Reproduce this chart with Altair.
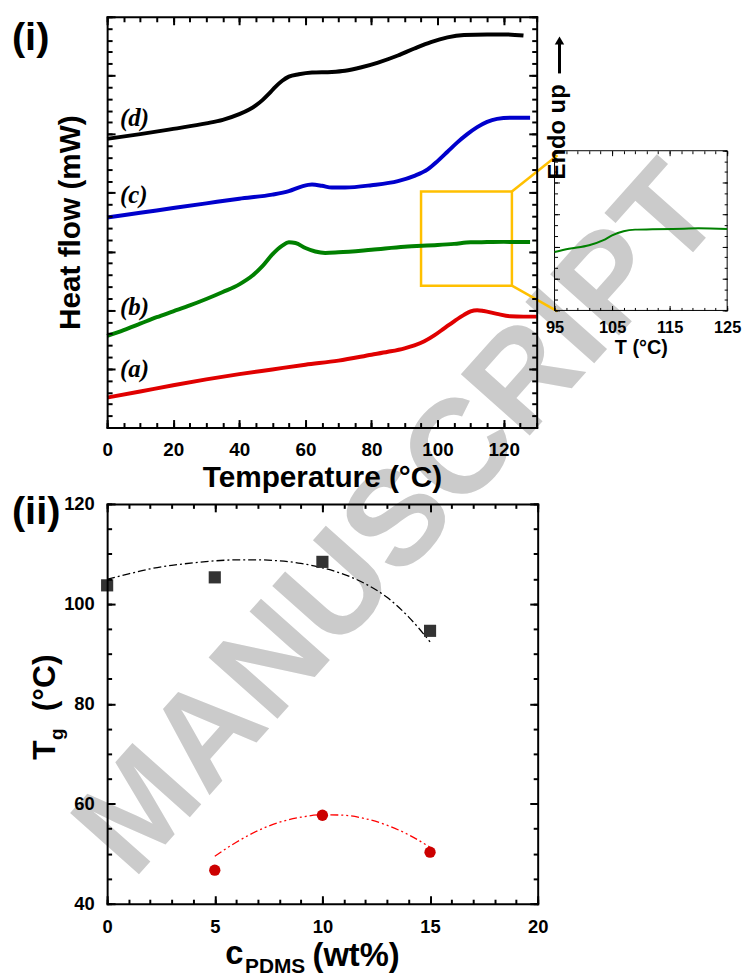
import altair as alt
import pandas as pd

FONT = "Liberation Sans"
SERIF = "Liberation Serif"

# ---- DSC heat-flow traces (vertically offset, arbitrary units) ----
temp_a = [0, 10, 20, 30, 40, 50, 60, 70, 80, 85, 90, 93, 96, 99, 102, 105, 108, 110, 112, 114, 118, 122, 126, 130]
hf_a = [2.55, 3.07, 3.6, 4.1, 4.55, 4.95, 5.35, 5.7, 6.2, 6.45, 6.75, 7.0, 7.35, 7.85, 8.45, 9.05, 9.6, 9.9, 10.0, 9.93, 9.68, 9.48, 9.45, 9.45]

temp_b = [0, 5, 10, 15, 20, 25, 30, 35, 40, 44, 47, 50, 53, 55, 57, 60, 63, 66, 70, 80, 90, 100, 105, 110, 115, 120, 128]
hf_b = [7.8, 8.3, 8.85, 9.4, 9.9, 10.4, 10.95, 11.55, 12.2, 12.95, 13.75, 14.75, 15.5, 15.78, 15.72, 15.3, 15.0, 14.88, 14.93, 15.15, 15.4, 15.55, 15.65, 15.78, 15.8, 15.82, 15.8]

temp_c = [0, 10, 20, 30, 40, 50, 55, 59, 62, 65, 68, 72, 80, 88, 93, 97, 100, 103, 106, 109, 112, 115, 118, 122, 128]
hf_c = [17.9, 18.3, 18.7, 19.1, 19.5, 19.85, 20.15, 20.55, 20.7, 20.6, 20.45, 20.45, 20.65, 21.0, 21.45, 22.0, 22.7, 23.5, 24.3, 25.0, 25.6, 26.05, 26.3, 26.4, 26.4]

temp_d = [0, 10, 20, 30, 35, 40, 43, 45, 47, 49, 51, 53, 55, 58, 62, 68, 72, 77, 82, 88, 93, 98, 103, 108, 115, 120, 126]
hf_d = [24.6, 25.0, 25.45, 25.92, 26.22, 26.7, 27.1, 27.45, 27.9, 28.45, 29.05, 29.55, 29.9, 30.1, 30.25, 30.3, 30.4, 30.7, 31.1, 31.7, 32.3, 32.85, 33.25, 33.45, 33.5, 33.5, 33.4]

samples = ["a", "b", "c", "d"]
sample_labels = ["(a)", "(b)", "(c)", "(d)"]
sample_colors = ["#E00000", "#008000", "#0000CC", "#000000"]

# ---- enlarged glass-transition region of trace (b) ----
inset_temp = [95, 97.5, 101, 103.5, 105, 107, 109, 112, 117.5, 120, 125]
inset_hf = [1.83, 1.93, 2.04, 2.2, 2.35, 2.48, 2.53, 2.54, 2.56, 2.57, 2.55]

# ---- Tg versus PDMS content ----
c_high = [0, 5, 10, 15]
tg_high = [103.7, 105.3, 108.4, 94.6]
c_low = [5, 10, 15]
tg_low = [46.7, 57.7, 50.3]
fit_high_c = [0, 1, 2, 3, 4, 5, 6, 7, 8, 9, 10, 11, 12, 13, 14, 15]
fit_high_tg = [104.9, 106.0, 107.0, 107.7, 108.2, 108.6, 108.8, 108.8, 108.6, 108.1, 107.2, 105.9, 104.0, 101.3, 97.4, 92.4]
fit_low_c = [5, 6, 7, 8, 9, 10, 11, 12, 13, 14, 15]
fit_low_tg = [49.5, 52.3, 54.6, 56.3, 57.3, 57.8, 57.7, 57.0, 55.7, 53.8, 51.3]


def one_row():
    return alt.Data(values=[{"k": 0}])


def lin(dom):
    return alt.Scale(domain=dom, nice=False, zero=False)


def axis_only(channel, xdom, ydom, axis):
    """Invisible mark that carries one axis; both position scales are present."""
    if channel == "x":
        enc = dict(x=alt.X("vx:Q", scale=lin(xdom), axis=axis), y=alt.Y("vy:Q", scale=lin(ydom), axis=None))
    else:
        enc = dict(x=alt.X("vx:Q", scale=lin(xdom), axis=None), y=alt.Y("vy:Q", scale=lin(ydom), axis=axis))
    return alt.Chart(alt.Data(values=[{"vx": xdom[0], "vy": ydom[0]}])).mark_point(opacity=0).encode(**enc)


def tick_axis(channel, xdom, ydom, orient, offset, values, size, lw, domain_line):
    ax = alt.Axis(orient=orient, offset=offset, values=values, tickSize=size, tickWidth=lw,
                  tickColor="black", labels=False, domain=domain_line, domainWidth=lw,
                  domainColor="black", domainCap="square", grid=False, title=None, zindex=1)
    return axis_only(channel, xdom, ydom, ax)


def inner_ticks(xdom, ydom, W, H, xmaj, xmin, ymaj, ymin, lmaj, lmin, lw):
    """Frame with inward-pointing ticks on all four sides."""
    out = []
    for orient in ("top", "bottom"):
        out.append(tick_axis("x", xdom, ydom, orient, -H, xmin, lmin, lw, False))
        out.append(tick_axis("x", xdom, ydom, orient, -H, xmaj, lmaj, lw, True))
    for orient in ("right", "left"):
        out.append(tick_axis("y", xdom, ydom, orient, -W, ymin, lmin, lw, False))
        out.append(tick_axis("y", xdom, ydom, orient, -W, ymaj, lmaj, lw, True))
    return out


def label_axis(channel, xdom, ydom, orient, values, size, pad, title=None, tsize=0, tpad=0):
    kw = dict(orient=orient, ticks=False, tickSize=0, domain=False, grid=False,
              labelFont=FONT, labelFontWeight="bold", labelFontSize=size,
              labelColor="black", labelPadding=pad, labelFlush=False, labelOverlap=False,
              minExtent=0, zindex=1)
    if values is None:
        kw["labels"] = False
    else:
        kw["values"] = values
    if title is None:
        kw["title"] = None
    else:
        kw.update(title=title, titleFont=FONT, titleFontWeight="bold", titleFontSize=tsize,
                  titleColor="black", titlePadding=tpad)
    return axis_only(channel, xdom, ydom, alt.Axis(**kw))


def xy(xf, yf, xdom, ydom):
    return dict(x=alt.X(xf, scale=lin(xdom), axis=None), y=alt.Y(yf, scale=lin(ydom), axis=None))


# ================= (i) DSC panel =================
W1, H1 = 433, 414
XD1, YD1 = [0, 130], [0, 35]

rows = []
for s, T, HF in zip(samples, [temp_a, temp_b, temp_c, temp_d], [hf_a, hf_b, hf_c, hf_d]):
    rows += [{"sample": s, "T": t, "hf": h} for t, h in zip(T, HF)]
dsc = pd.DataFrame(rows)

curves = alt.Chart(dsc).mark_line(strokeWidth=4, interpolate="monotone").encode(
    color=alt.Color("sample:N", scale=alt.Scale(domain=samples, range=sample_colors), legend=None),
    **xy("T:Q", "hf:Q", XD1, YD1))

curve_tags = pd.DataFrame({"tag": sample_labels, "T": [3.9] * 4, "hf": [5.0, 10.3, 19.85, 26.4]})
tags = alt.Chart(curve_tags).mark_text(font=SERIF, fontStyle="italic", fontWeight="bold", fontSize=25,
                                       align="left", baseline="middle", color="black").encode(
    text="tag:N", **xy("T:Q", "hf:Q", XD1, YD1))

zoom_box = alt.Chart(alt.Data(values=[{"T0": 95, "T1": 122.5, "h0": 12.09, "h1": 20.12}])).mark_rect(
    fillOpacity=0, stroke="#FFC000", strokeWidth=2.5).encode(
    x2="T1:Q", y2="h1:Q", **xy("T0:Q", "h0:Q", XD1, YD1))

leaders = alt.Chart(alt.Data(values=[
    {"T": 122.5, "h": 20.12, "T2": 136.3, "h2": 23.2},
    {"T": 122.5, "h": 12.09, "T2": 136.3, "h2": 9.9},
])).mark_rule(stroke="#FFC000", strokeWidth=2.5).encode(
    x2="T2:Q", y2="h2:Q", **xy("T:Q", "h:Q", XD1, YD1))

panel_i = alt.Chart(one_row()).mark_text(text="(i)", font=FONT, fontWeight="bold", fontSize=40,
                                         align="left", baseline="middle", color="black").encode(
    x=alt.value(-96), y=alt.value(21))

watermark = alt.Chart(one_row()).mark_text(text="MANUSCRIPT", font=FONT, fontWeight="bold", fontSize=135,
                                           angle=311.7, align="right", baseline="middle",
                                           color="#CBCBCB").encode(x=alt.value(594), y=alt.value(172))

main_axes = inner_ticks(XD1, YD1, W1, H1, list(range(0, 131, 20)), list(range(0, 131, 5)),
                        list(range(0, 36, 5)), list(range(0, 36)), 8, 5, 2)
main_axes.append(label_axis("x", XD1, YD1, "bottom", list(range(0, 121, 20)), 19, 13,
                            "Temperature (°C)", 30, 3))
main_axes.append(label_axis("y", XD1, YD1, "left", None, 19, 0, "Heat flow (mW)", 30, 22))

main = alt.layer(watermark, zoom_box, leaders, curves, tags, panel_i, *main_axes).resolve_axis(
    x="independent", y="independent").properties(width=W1, height=H1)

# ================= inset (lower part of a tall column) =================
W2, H2 = 174, 296          # full column; the framed plot is the lower 161 px
FRAME_H = 161
XD2 = [95, 125]
YD2 = [0, 5 * H2 / FRAME_H]  # inset values run 0..5 inside the frame

inset_line = alt.Chart(pd.DataFrame({"T": inset_temp, "hf": inset_hf})).mark_line(
    strokeWidth=2, color="#008000", interpolate="monotone").encode(**xy("T:Q", "hf:Q", XD2, YD2))

inset_frame = alt.Chart(alt.Data(values=[{"T0": 95, "T1": 125, "h0": 0, "h1": 5}])).mark_rect(
    fillOpacity=0, stroke="black", strokeWidth=1).encode(
    x2="T1:Q", y2="h1:Q", **xy("T0:Q", "h0:Q", XD2, YD2))

endo_text = alt.Chart(alt.Data(values=[{"T": 96.9, "h": 4.1}])).mark_text(
    text="Endo up", angle=270, align="left", baseline="alphabetic", font=FONT, fontWeight="bold",
    fontSize=24, color="black").encode(**xy("T:Q", "h:Q", XD2, YD2))
endo_shaft = alt.Chart(alt.Data(values=[{"T": 95.86, "h": 7.42, "h2": 8.35}])).mark_rule(
    strokeWidth=3, color="black").encode(y2="h2:Q", **xy("T:Q", "h:Q", XD2, YD2))
endo_head = alt.Chart(alt.Data(values=[{"T": 95.86, "h": 8.45}])).mark_point(
    shape="triangle-up", filled=True, size=90, color="black", opacity=1).encode(
    **xy("T:Q", "h:Q", XD2, YD2))

x_min_in = list(range(95, 126, 2))
x_maj_in = [95, 105, 115, 125]
y_maj_in = [0, 1, 2, 3, 4, 5]
y_min_in = [i / 3 for i in range(16)]
inset_axes = [
    tick_axis("x", XD2, YD2, "top", -H2, x_min_in, 3, 1, False),
    tick_axis("x", XD2, YD2, "top", -H2, x_maj_in, 5, 1, False),
    tick_axis("x", XD2, YD2, "bottom", -FRAME_H, x_min_in, 3, 1, False),
    tick_axis("x", XD2, YD2, "bottom", -FRAME_H, x_maj_in, 5, 1, False),
    tick_axis("y", XD2, YD2, "right", -W2, y_min_in, 3, 1, False),
    tick_axis("y", XD2, YD2, "right", -W2, y_maj_in, 5, 1, False),
    tick_axis("y", XD2, YD2, "left", -W2, y_min_in, 3, 1, False),
    tick_axis("y", XD2, YD2, "left", -W2, y_maj_in, 5, 1, False),
    label_axis("x", XD2, YD2, "bottom", x_maj_in, 16.5, 9, "T (°C)", 20, 2),
]
inset = alt.layer(inset_frame, inset_line, endo_text, endo_shaft, endo_head, *inset_axes).resolve_axis(
    x="independent", y="independent").properties(width=W2, height=H2)

# ================= (ii) Tg panel =================
W3, H3 = 434, 403
XD3, YD3 = [0, 20], [40, 120]

fit_hi = alt.Chart(pd.DataFrame({"c": fit_high_c, "tg": fit_high_tg})).mark_line(
    strokeWidth=1.3, color="black", strokeDash=[8, 3, 2, 3], interpolate="monotone").encode(
    **xy("c:Q", "tg:Q", XD3, YD3))
fit_lo = alt.Chart(pd.DataFrame({"c": fit_low_c, "tg": fit_low_tg})).mark_line(
    strokeWidth=1.3, color="#FF0000", strokeDash=[8, 3, 2, 3, 2, 3], interpolate="monotone").encode(
    **xy("c:Q", "tg:Q", XD3, YD3))
pts_hi = alt.Chart(pd.DataFrame({"c": c_high, "tg": tg_high})).mark_point(
    shape="square", filled=True, size=150, color="#333333", opacity=1).encode(
    **xy("c:Q", "tg:Q", XD3, YD3))
pts_lo = alt.Chart(pd.DataFrame({"c": c_low, "tg": tg_low})).mark_point(
    shape="circle", filled=True, size=130, color="#CC0000", opacity=1).encode(
    **xy("c:Q", "tg:Q", XD3, YD3))


def word(txt, x, y, size, angle=0):
    props = dict(text=txt, font=FONT, fontWeight="bold", fontSize=size, align="left",
                 baseline="alphabetic", color="black")
    if angle:
        props["angle"] = angle
    return alt.Chart(one_row()).mark_text(**props).encode(x=alt.value(x), y=alt.value(y))


titles_ii = [
    word("c", 119, 464, 33),
    word("PDMS", 139, 473, 21),
    word("(wt%)", 207, 466, 33),
    word("T", -53, 258, 32, 270),
    word("g", -44, 238, 19, 270),
    word("(°C)", -53, 209, 32, 270),
]
panel_ii = alt.Chart(one_row()).mark_text(text="(ii)", font=FONT, fontWeight="bold", fontSize=40,
                                          align="left", baseline="middle", color="black").encode(
    x=alt.value(-96), y=alt.value(8))

tg_axes = inner_ticks(XD3, YD3, W3, H3, [0, 5, 10, 15, 20], list(range(0, 21)),
                      [40, 60, 80, 100, 120], list(range(40, 121, 5)), 8, 4.5, 2)
tg_axes.append(label_axis("x", XD3, YD3, "bottom", [0, 5, 10, 15, 20], 18.5, 14))
tg_axes.append(label_axis("y", XD3, YD3, "left", [40, 60, 80, 100, 120], 18.5, 13))

tg_panel = alt.layer(fit_hi, fit_lo, pts_hi, pts_lo, *titles_ii, panel_ii, *tg_axes).resolve_axis(
    x="independent", y="independent").properties(width=W3, height=H3)

# ================= assembly: 2-column grid =================
chart = alt.concat(main, inset, tg_panel, columns=2, spacing={"row": 77, "column": 17},
                   bounds="flush").properties(
    padding={"left": 12, "top": 12, "right": 0, "bottom": 0}
).configure_view(stroke=None)

chart.save("out.html", embed_options={"renderer": "svg", "actions": False})
